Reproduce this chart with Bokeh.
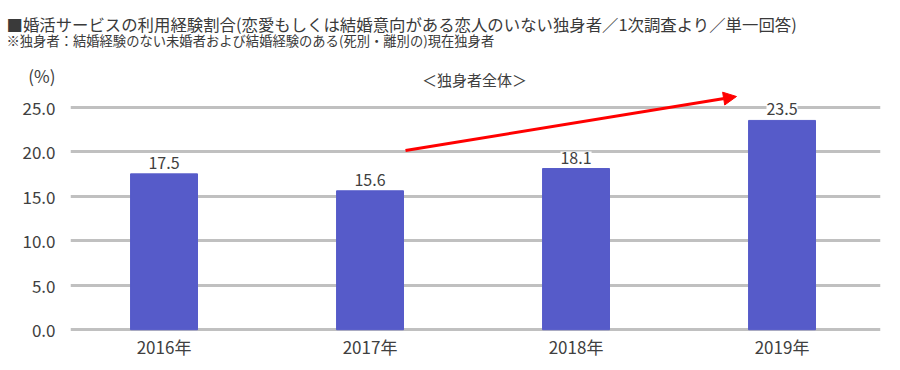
from bokeh.plotting import figure
from bokeh.models import (ColumnDataSource, LabelSet, Label, Arrow, NormalHead,
                          FixedTicker, PrintfTickFormatter, Range1d, Title)
from bokeh.core.properties import value
from bokeh.embed import file_html
from bokeh.resources import INLINE

# ---- data ----
years = ["2016年", "2017年", "2018年", "2019年"]
values = [17.5, 15.6, 18.1, 23.5]
y_ticks = [0, 5, 10, 15, 20, 25]

title_text = "■婚活サービスの利用経験割合(恋愛もしくは結婚意向がある恋人のいない独身者／1次調査より／単一回答)"
subtitle_text = "※独身者：結婚経験のない未婚者および結婚経験のある(死別・離別の)現在独身者"
unit_text = "(%)"
unit_pos = 28.6
group_text = "＜独身者全体＞"

FONT = "Noto Sans CJK JP"
BAR = "#565BC9"
GRID = "#c0c0c0"
TXT = "#404040"

W, H = 900, 370
X0, X1 = -0.454, 3.478
Y0, Y1 = -0.2, 29.78
ML, MR, MT, MB = 70, 20, 64, 39

xs = list(range(len(years)))
src = ColumnDataSource(dict(x=xs, top=values, lab=[f"{v:.1f}" for v in values]))

p = figure(width=W, height=H, output_backend="svg", toolbar_location=None,
           title_location=None,
           x_range=Range1d(X0, X1), y_range=Range1d(Y0, Y1),
           min_border_left=ML, min_border_right=MR, min_border_top=MT, min_border_bottom=MB)
p.outline_line_color = None
p.background_fill_color = "white"

p.vbar(x="x", top="top", bottom=0, width=0.325, source=src, color=BAR)

# axes
p.xaxis.ticker = FixedTicker(ticks=xs)
p.xaxis.major_label_overrides = {i: y for i, y in enumerate(years)}
p.yaxis.ticker = FixedTicker(ticks=y_ticks + [unit_pos])
p.yaxis.formatter = PrintfTickFormatter(format="%.1f")
p.yaxis.major_label_overrides = {unit_pos: unit_text}
for ax in (p.xaxis[0], p.yaxis[0]):
    ax.axis_line_color = None
    ax.major_tick_line_color = None
    ax.minor_tick_line_color = None
    ax.major_tick_out = 0
    ax.major_tick_in = 0
    ax.minor_tick_out = 0
    ax.major_label_text_font = FONT
    ax.major_label_text_color = TXT
p.xaxis.major_label_text_font_size = "17px"
p.xaxis.major_label_standoff = 2
p.yaxis.major_label_text_font_size = "17px"
p.yaxis.major_label_standoff = 15

p.xgrid.grid_line_color = None
p.ygrid.ticker = FixedTicker(ticks=y_ticks)
p.ygrid.grid_line_color = GRID
p.ygrid.grid_line_width = 3

# value labels
p.add_layout(LabelSet(x="x", y="top", text="lab", source=src, text_align="center",
                      text_baseline="alphabetic", y_offset=5, text_font=value(FONT),
                      text_font_size="16px", text_color=TXT,
                      background_fill_color="white"))

# titles (later-added goes further from the frame)
p.add_layout(Title(text=subtitle_text, text_font=FONT, text_font_size="13.3px",
                   text_font_style="normal", text_color="#3a3a3a",
                   align="left", offset=-64, standoff=30), "above")
p.add_layout(Title(text=title_text, text_font=FONT, text_font_size="16.4px",
                   text_font_style="normal", text_color="#3a3a3a",
                   align="left", offset=-64, standoff=-44), "above")

# helpers: page pixel -> data coords (for annotation placement only)
fw = W - ML - MR
fh = H - MT - MB
def dx(px):
    return X0 + (px - ML) * (X1 - X0) / fw
def dy(py):
    return Y1 - (py - MT) * (Y1 - Y0) / fh

p.add_layout(Label(x=dx(474), y=dy(79), text=group_text, text_font=FONT, text_font_size="15px",
                   text_color=TXT, text_baseline="middle", text_align="center"))

# trend arrow
p.add_layout(Arrow(end=NormalHead(size=13, fill_color="red", line_color="red"),
                   x_start=dx(405), y_start=dy(150), x_end=dx(736), y_end=dy(96),
                   line_color="red", line_width=3))

open("out.html", "w").write(file_html(p, INLINE))
